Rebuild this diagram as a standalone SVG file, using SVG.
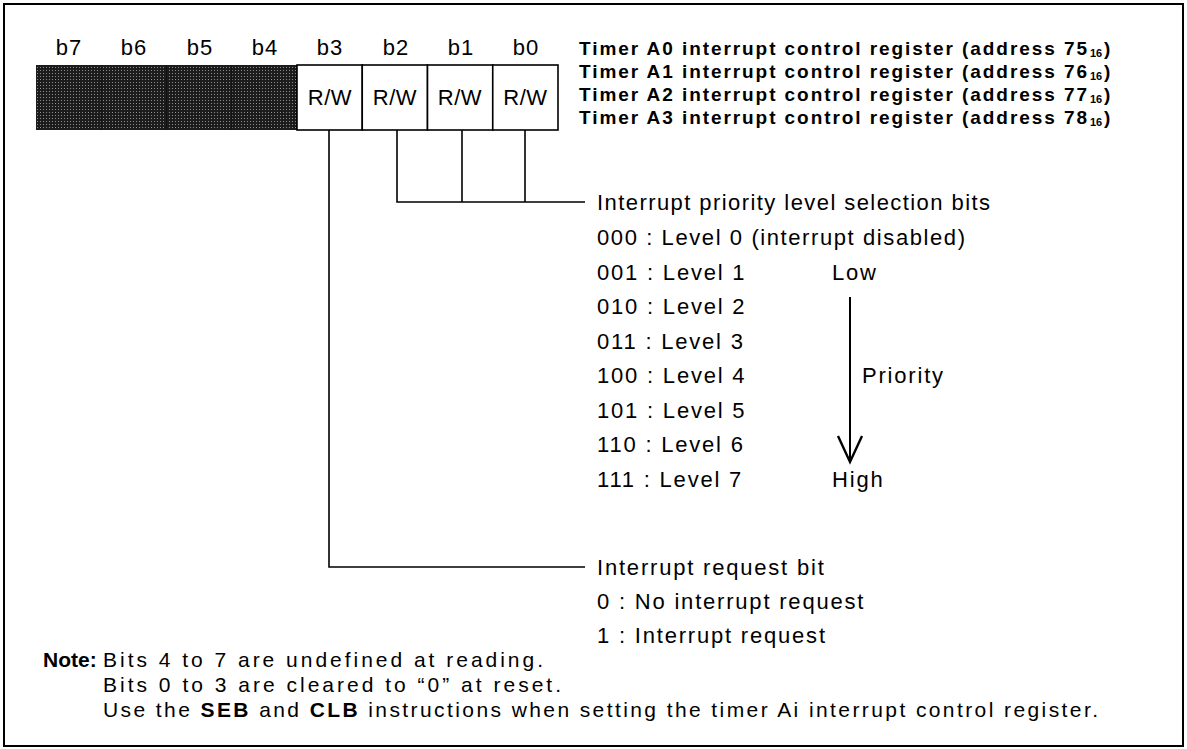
<svg xmlns="http://www.w3.org/2000/svg" width="1187" height="749" viewBox="0 0 1187 749">
<style>
  .t { font-family: "Liberation Sans", Arial, sans-serif; font-size: 22px; letter-spacing: 1.8px; fill: #000; }
  .n { font-family: "Liberation Sans", Arial, sans-serif; font-size: 22px; fill: #000; }
  .nt { font-family: "Liberation Sans", Arial, sans-serif; font-size: 21px; fill: #000; }
  .lb { font-family: "Liberation Sans", Arial, sans-serif; font-size: 22px; letter-spacing: 1px; fill: #000; text-anchor: middle; }
  .rw { font-family: "Liberation Sans", Arial, sans-serif; font-size: 22px; letter-spacing: 0.5px; fill: #000; text-anchor: middle; }
  .b { font-family: "Liberation Sans", Arial, sans-serif; font-size: 19px; font-weight: bold; fill: #000; }
  .sub { font-family: "Liberation Sans", Arial, sans-serif; font-size: 11px; font-weight: bold; fill: #000; }
  .ln { stroke: #000; stroke-width: 1.6; fill: none; }
  .cell { fill: #fff; stroke: #000; stroke-width: 1.6; }
</style>
<defs>
  <pattern id="stip" width="3" height="3" patternUnits="userSpaceOnUse">
    <rect width="3" height="3" fill="#1c1c1c"/>
    <rect x="1" y="1" width="1" height="1" fill="#8c8c8c"/>
  </pattern>
</defs>
<rect x="4" y="4" width="1179" height="742" fill="#fff" stroke="#000" stroke-width="2"/>

<g id="bit-labels">
  <text class="lb" x="69" y="55">b7</text>
  <text class="lb" x="134" y="55">b6</text>
  <text class="lb" x="200" y="55">b5</text>
  <text class="lb" x="265" y="55">b4</text>
  <text class="lb" x="330" y="55">b3</text>
  <text class="lb" x="396" y="55">b2</text>
  <text class="lb" x="461" y="55">b1</text>
  <text class="lb" x="526" y="55">b0</text>
</g>

<g id="register">
  <rect x="36" y="65" width="261" height="65" fill="url(#stip)"/>
  <line x1="101.25" y1="65" x2="101.25" y2="130" stroke="#111" stroke-width="1"/>
  <line x1="166.5" y1="65" x2="166.5" y2="130" stroke="#111" stroke-width="1"/>
  <line x1="231.75" y1="65" x2="231.75" y2="130" stroke="#111" stroke-width="1"/>
  <rect class="cell" x="297" y="65" width="65.25" height="65"/>
  <rect class="cell" x="362.25" y="65" width="65.25" height="65"/>
  <rect class="cell" x="427.5" y="65" width="65.25" height="65"/>
  <rect class="cell" x="492.75" y="65" width="65.25" height="65"/>
  <text class="rw" x="330" y="105">R/W</text>
  <text class="rw" x="395" y="105">R/W</text>
  <text class="rw" x="460" y="105">R/W</text>
  <text class="rw" x="525.5" y="105">R/W</text>
</g>

<g id="title">
  <text class="b" x="579" y="55" textLength="508" lengthAdjust="spacing">Timer A0 interrupt control register (address 75</text>
  <text class="sub" x="1090" y="57">16</text>
  <text class="b" x="1104" y="55">)</text>
  <text class="b" x="579" y="78" textLength="508" lengthAdjust="spacing">Timer A1 interrupt control register (address 76</text>
  <text class="sub" x="1090" y="80">16</text>
  <text class="b" x="1104" y="78">)</text>
  <text class="b" x="579" y="101" textLength="508" lengthAdjust="spacing">Timer A2 interrupt control register (address 77</text>
  <text class="sub" x="1090" y="103">16</text>
  <text class="b" x="1104" y="101">)</text>
  <text class="b" x="579" y="124" textLength="508" lengthAdjust="spacing">Timer A3 interrupt control register (address 78</text>
  <text class="sub" x="1090" y="126">16</text>
  <text class="b" x="1104" y="124">)</text>
</g>

<g id="connectors">
  <polyline class="ln" points="397,130 397,202 585,202"/>
  <line class="ln" x1="462" y1="130" x2="462" y2="202"/>
  <line class="ln" x1="525" y1="130" x2="525" y2="202"/>
  <polyline class="ln" points="329,130 329,567 585,567"/>
</g>

<g id="priority-bits">
  <text class="n" x="597" y="210" textLength="393" lengthAdjust="spacing">Interrupt priority level selection bits</text>
  <text class="n" x="597" y="245" textLength="368" lengthAdjust="spacing">000 : Level 0 (interrupt disabled)</text>
  <text class="t" x="597" y="280">001 : Level 1</text>
  <text class="t" x="597" y="314">010 : Level 2</text>
  <text class="t" x="597" y="349">011 : Level 3</text>
  <text class="t" x="597" y="383">100 : Level 4</text>
  <text class="t" x="597" y="418">101 : Level 5</text>
  <text class="t" x="597" y="452">110 : Level 6</text>
  <text class="t" x="597" y="487">111 : Level 7</text>
</g>

<g id="priority-arrow">
  <text class="t" x="832" y="280">Low</text>
  <line x1="850" y1="297" x2="850" y2="460" stroke="#000" stroke-width="2"/>
  <polyline points="838,436 850,462 862,436" fill="none" stroke="#000" stroke-width="2.4"/>
  <text class="t" x="862" y="383">Priority</text>
  <text class="t" x="832" y="487">High</text>
</g>

<g id="request-bit">
  <text class="t" x="597" y="575">Interrupt request bit</text>
  <text class="t" x="597" y="609">0 : No interrupt request</text>
  <text class="t" x="597" y="643">1 : Interrupt request</text>
</g>

<g id="note">
  <text class="nt" x="43" y="667" font-weight="bold">Note:</text>
  <text class="nt" x="103" y="667" textLength="440" lengthAdjust="spacing">Bits 4 to 7 are undefined at reading.</text>
  <text class="nt" x="103" y="692" textLength="458" lengthAdjust="spacing">Bits 0 to 3 are cleared to “0” at reset.</text>
  <text class="nt" x="103" y="717" textLength="995" lengthAdjust="spacing">Use the <tspan font-weight="bold">SEB</tspan> and <tspan font-weight="bold">CLB</tspan> instructions when setting the timer Ai interrupt control register.</text>
</g>
</svg>
